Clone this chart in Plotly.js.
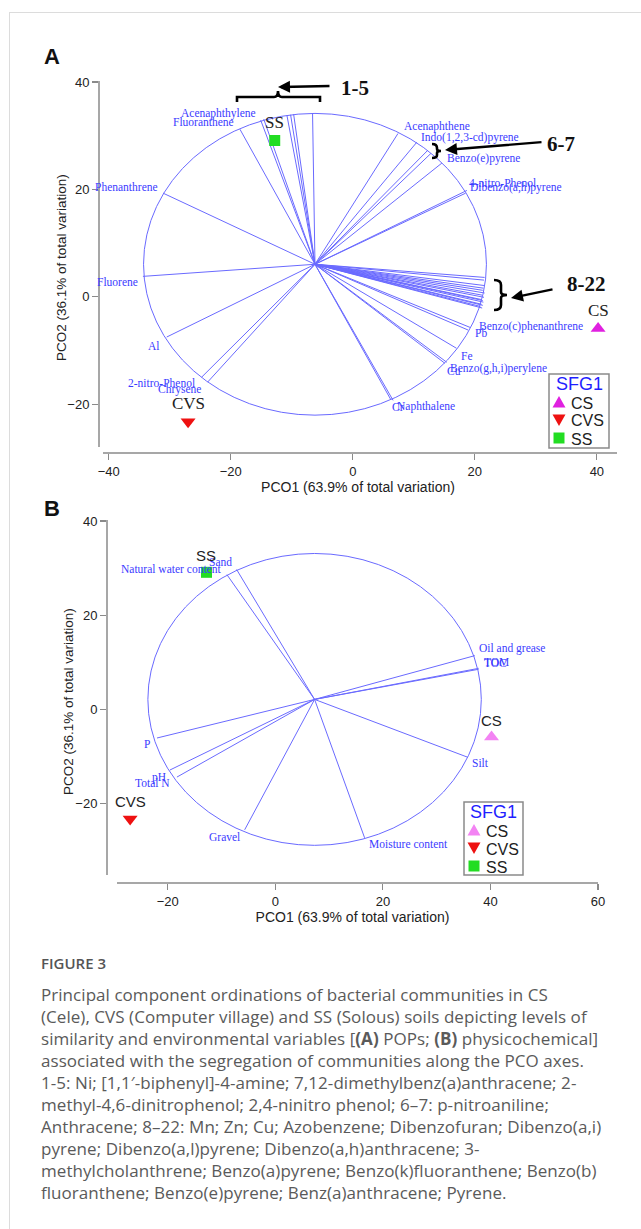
<!DOCTYPE html>
<html><head><meta charset="utf-8">
<script src="https://cdn.plot.ly/plotly-3.0.1.min.js"></script>
<style>
html,body{margin:0;padding:0;background:#fff;width:641px;height:1229px;overflow:hidden;}
#frame{position:absolute;left:9px;top:12px;right:0;bottom:0;border-top:1px solid #dcdcdc;border-left:1px solid #dcdcdc;}
#chart{position:absolute;left:0;top:0;width:641px;height:930px;}
#cap{position:absolute;left:41px;top:952px;font-family:'Open Sans',sans-serif;font-size:17px;line-height:22px;color:#5a5a5a;white-space:nowrap;letter-spacing:0.05px;}
#cap .fig{font-weight:600;color:#555;font-size:15px;letter-spacing:0;}
#cap .body{margin-top:10px;}
</style></head><body>
<div id="frame"></div>
<div id="chart"></div>
<div id="cap"><div class="fig">FIGURE 3</div><div class="body">
Principal component ordinations of bacterial communities in CS<br>
(Cele), CVS (Computer village) and SS (Solous) soils depicting levels of<br>
similarity and environmental variables [<b>(A)</b> POPs; <b>(B)</b> physicochemical]<br>
associated with the segregation of communities along the PCO axes.<br>
1-5: Ni; [1,1′-biphenyl]-4-amine; 7,12-dimethylbenz(a)anthracene; 2-<br>
methyl-4,6-dinitrophenol; 2,4-ninitro phenol; 6–7: p-nitroaniline;<br>
Anthracene; 8–22: Mn; Zn; Cu; Azobenzene; Dibenzofuran; Dibenzo(a,i)<br>
pyrene; Dibenzo(a,l)pyrene; Dibenzo(a,h)anthracene; 3-<br>
methylcholanthrene; Benzo(a)pyrene; Benzo(k)fluoranthene; Benzo(b)<br>
fluoranthene; Benzo(e)pyrene; Benz(a)anthracene; Pyrene.</div></div>
<script>
// ---------- DATA ----------
const sites = ['CS', 'CVS', 'SS'];
const sitePCO1 = [40.2, -27.0, -12.8];
const sitePCO2 = [-5.9, -23.3, 29.1];

// Panel A: POP vectors (end points), drawn from the vector origin
const popOrigin = [-6.2, 6.05];
const popRadius = 28.1;
const popNames = ['Fluoranthene', 'Acenaphthylene', '', '', '', '', '',
  'Acenaphthene', 'Indo(1,2,3-cd)pyrene', '', '', 'Benzo(e)pyrene', '4-nitro-Phenol', 'Dibenzo(a,h)pyrene',
  '', '', '', '', '', '', '', '', '', '', '', '', '', '', '',
  'Benzo(c)phenanthrene', 'Pb', 'Fe', 'Cu', 'Benzo(g,h,i)perylene', 'Cr', 'Naphthalene',
  'Phenanthrene', 'Fluorene', 'Al', '2-nitro-Phenol', 'Chrysene'];
const popX = [-18.5, -15.1, -14.6, -10.8, -10.2, -9.7, -6.6,
  7.4, 10.5, 12.3, 12.8, 14.6, 18.7, 18.5,
  21.6, 21.5, 21.5, 21.4, 21.3, 21.6, 21.2, 21.5, 21.0, 21.3, 21.4, 21.1, 21.3, 20.9, 21.2,
  19.2, 18.9, 17.0, 15.1, 15.4, 6.2, 6.6,
  -31.1, -34.4, -30.5, -24.8, -23.8];
const popY = [31.2, 32.9, 33.1, 33.8, 33.9, 34.0, 34.2,
  30.4, 28.8, 27.3, 26.7, 24.9, 19.8, 19.3,
  3.6, 3.1, 2.1, 1.6, 1.2, 0.7, 0.3, -0.1, -0.5, -0.7, -1.0, -1.4, -1.6, -1.8, -2.1,
  -5.7, -6.2, -9.6, -12.4, -12.2, -19.1, -19.3,
  19.3, 3.8, -7.5, -15.0, -15.9];

// Panel B: physicochemical vectors
const physOrigin = [7.3, 2.1];
const physRadius = 31.0;
const physNames = ['Natural water content', 'Sand', 'Oil and grease', 'TOC', 'TOM', 'Silt',
  'Moisture content', 'Gravel', 'P', 'pH', 'Total N'];
const physX = [-9.0, -7.2, 37.1, 37.8, 37.8, 35.8, 16.6, -5.7, -22.0, -19.6, -18.3];
const physY = [28.6, 29.7, 11.4, 8.5, 8.7, -10.2, -27.3, -25.6, -6.1, -12.9, -14.4];

const axisTicksA_x = [-40, -20, 0, 20, 40];
const axisTicksA_y = [-20, 0, 20, 40];
const axisTicksB_x = [-20, 0, 20, 40, 60];
const axisTicksB_y = [-20, 0, 20, 40];
const legendTitle = 'SFG1';

// ---------- STYLE ----------
const W = 641, H = 930;
const VEC = '#6a6aff';
const LBL = '#3b3bff';
const AXC = '#8a8a8a';
const siteColorsA = ['#e020e0', '#ee1111', '#22dd22'];
const siteColorsB = ['#f383f3', '#ee1111', '#22dd22'];
const siteSymbols = ['triangle-up', 'triangle-down', 'square'];
const siteSizes = [13, 13, 11];

// label placement: [xanchor, xshift, yshift]
const popLabelStyle = {
  'Fluoranthene': ['right', -4, 7], 'Acenaphthylene': ['right', -3, 7],
  'Phenanthrene': ['right', -3, 6], 'Fluorene': ['right', -3, -6], 'Al': ['right', -5, -9],
  '2-nitro-Phenol': ['right', -5, -6], 'Chrysene': ['right', -5, -7],
  'Acenaphthene': ['left', 4, 7], 'Indo(1,2,3-cd)pyrene': ['left', 2, 5], 'Benzo(e)pyrene': ['left', 3, 5],
  '4-nitro-Phenol': ['left', 0, 7], 'Dibenzo(a,h)pyrene': ['left', 2, 6],
  'Benzo(c)phenanthrene': ['left', 7, 1], 'Pb': ['left', 5, -3], 'Fe': ['left', 2, -8],
  'Cu': ['left', 0, -8], 'Benzo(g,h,i)perylene': ['left', 1, -6], 'Cr': ['left', -1, -8],
  'Naphthalene': ['left', 2, -6]
};
const physLabelStyle = {
  'Natural water content': ['right', -4, 6], 'Sand': ['right', -3, 7], 'Oil and grease': ['left', 2, 7],
  'TOC': ['left', 3, 6], 'TOM': ['left', 3, 6], 'Silt': ['left', 2, -6], 'Moisture content': ['left', 2, -6],
  'Gravel': ['right', -3, -7], 'P': ['right', -5, -6], 'pH': ['right', -2, -7], 'Total N': ['right', -5, -6]
};

function vecTrace(origin, xs, ys, xa, ya) {
  const X = [], Y = [];
  xs.forEach((x, i) => { X.push(origin[0], x, null); Y.push(origin[1], ys[i], null); });
  return {type: 'scatter', mode: 'lines', x: X, y: Y, xaxis: xa, yaxis: ya,
    line: {color: VEC, width: 1}, hoverinfo: 'skip', showlegend: false};
}
const traces = [vecTrace(popOrigin, popX, popY, 'x', 'y'), vecTrace(physOrigin, physX, physY, 'x2', 'y2')];
sites.forEach((s, i) => {
  traces.push({type: 'scatter', mode: 'markers', name: s, x: [sitePCO1[i]], y: [sitePCO2[i]],
    xaxis: 'x', yaxis: 'y', showlegend: false, cliponaxis: false,
    marker: {symbol: siteSymbols[i], size: siteSizes[i], color: siteColorsA[i]}});
});
sites.forEach((s, i) => {
  traces.push({type: 'scatter', mode: 'markers', name: s, x: [sitePCO1[i]], y: [sitePCO2[i]],
    xaxis: 'x2', yaxis: 'y2', showlegend: false, cliponaxis: false,
    marker: {symbol: siteSymbols[i], size: siteSizes[i], color: siteColorsB[i]}});
});

const ann = [];
const vecFont = {family: 'Liberation Serif', size: 11.5, color: LBL};
popNames.forEach((n, i) => {
  if (!n) return;
  const st = popLabelStyle[n];
  ann.push({xref: 'x', yref: 'y', x: popX[i], y: popY[i], text: n, showarrow: false,
    xanchor: st[0], yanchor: 'middle', xshift: st[1], yshift: st[2], font: vecFont});
});
physNames.forEach((n, i) => {
  const st = physLabelStyle[n];
  ann.push({xref: 'x2', yref: 'y2', x: physX[i], y: physY[i], text: n, showarrow: false,
    xanchor: st[0], yanchor: 'middle', xshift: st[1], yshift: st[2], font: vecFont});
});
sites.forEach((s, i) => {
  ann.push({xref: 'x', yref: 'y', x: sitePCO1[i], y: sitePCO2[i], text: s, showarrow: false,
    yshift: 18, font: {family: 'Liberation Serif', size: 17, color: '#222'}});
  ann.push({xref: 'x2', yref: 'y2', x: sitePCO1[i], y: sitePCO2[i], text: s, showarrow: false,
    yshift: 17, font: {family: 'Arial', size: 15, color: '#222'}});
});
const px = (x) => x / W, py = (y) => 1 - y / H;
function paperText(x, y, t, font, extra) {
  ann.push(Object.assign({xref: 'paper', yref: 'paper', x: px(x), y: py(y), text: t, showarrow: false,
    xanchor: 'center', yanchor: 'middle', font: font}, extra || {}));
}
function arrow(tx, ty, hx, hy) {
  ann.push({xref: 'paper', yref: 'paper', x: px(hx), y: py(hy), ax: tx - hx, ay: ty - hy, text: '',
    showarrow: true, arrowhead: 2, arrowsize: 1, arrowwidth: 2.4, arrowcolor: '#000'});
}
const bold = {family: 'Liberation Serif', size: 21, color: '#111'};
paperText(52, 57, '<b>A</b>', {family: 'Arial', size: 22, color: '#111'});
paperText(52, 508, '<b>B</b>', {family: 'Arial', size: 22, color: '#111'});
paperText(355, 88, '<b>1-5</b>', bold);
paperText(561, 144, '<b>6-7</b>', bold);
paperText(586, 284, '<b>8-22</b>', bold);
arrow(331, 86, 278, 87);
arrow(543, 142, 445, 150);
arrow(554, 289, 511, 298);
// y axis titles
const yTitleFont = {family: 'Arial', size: 13.5, color: '#222'};
paperText(62, 268, 'PCO2 (36.1% of total variation)', yTitleFont, {textangle: -90});
paperText(68, 702, 'PCO2 (36.1% of total variation)', yTitleFont, {textangle: -90});

function P(x, y) { return px(x) + ',' + py(y); }
const brace = (pts) => ({type: 'path', xref: 'paper', yref: 'paper', path: pts, line: {color: '#000', width: 2.6}});
const pline = (x0, y0, x1, y1) => ({type: 'line', xref: 'paper', yref: 'paper', x0: px(x0), y0: py(y0), x1: px(x1), y1: py(y1),
  line: {color: AXC, width: 1.5}});
const shapes = [
  {type: 'circle', xref: 'x', yref: 'y', x0: popOrigin[0] - popRadius, x1: popOrigin[0] + popRadius,
    y0: popOrigin[1] - popRadius, y1: popOrigin[1] + popRadius, line: {color: VEC, width: 1}, layer: 'below'},
  {type: 'circle', xref: 'x2', yref: 'y2', x0: physOrigin[0] - physRadius, x1: physOrigin[0] + physRadius,
    y0: physOrigin[1] - physRadius, y1: physOrigin[1] + physRadius, line: {color: VEC, width: 1}, layer: 'below'},
  brace('M' + P(237, 102) + ' L' + P(237, 97) + ' L' + P(274, 97) + ' Q' + P(278, 97) + ' ' + P(278, 91) +
    ' Q' + P(278, 97) + ' ' + P(282, 97) + ' L' + P(320, 97) + ' L' + P(320, 102)),
  brace('M' + P(432, 144) + ' Q' + P(437, 144) + ' ' + P(437, 148) + ' L' + P(437, 149) + ' Q' + P(437, 151) + ' ' + P(441, 151) +
    ' Q' + P(437, 151) + ' ' + P(437, 153) + ' L' + P(437, 155) + ' Q' + P(437, 158) + ' ' + P(432, 158)),
  brace('M' + P(494, 280) + ' Q' + P(501, 280) + ' ' + P(501, 285) + ' L' + P(501, 292) + ' Q' + P(501, 295) + ' ' + P(507, 295) +
    ' Q' + P(501, 295) + ' ' + P(501, 298) + ' L' + P(501, 305) + ' Q' + P(501, 310) + ' ' + P(494, 310)),
  // separated axis lines (PRIMER style)
  pline(99, 81, 99, 447), pline(103, 453, 617, 453),
  pline(107, 520, 107, 875), pline(117, 883, 598, 883)
];

// hand-built legend boxes (one per panel)
function legendBox(x0, y0, x1, y1, colors, rowYs, symX, textX) {
  shapes.push({type: 'rect', xref: 'paper', yref: 'paper', x0: px(x0), x1: px(x1), y0: py(y1), y1: py(y0),
    line: {color: AXC, width: 1.5}, fillcolor: '#fff', layer: 'above'});
  paperText((x0 + x1) / 2, y0 + 10, legendTitle, {family: 'Arial', size: 18, color: '#1f1fff'});
  sites.forEach((s, i) => {
    const cx = symX, cy = rowYs[i];
    let path;
    if (siteSymbols[i] === 'triangle-up') path = 'M' + P(cx - 6.5, cy + 5.5) + ' L' + P(cx + 6.5, cy + 5.5) + ' L' + P(cx, cy - 6) + ' Z';
    else if (siteSymbols[i] === 'triangle-down') path = 'M' + P(cx - 6.5, cy - 5.5) + ' L' + P(cx + 6.5, cy - 5.5) + ' L' + P(cx, cy + 6) + ' Z';
    else path = 'M' + P(cx - 5.5, cy - 5.5) + ' L' + P(cx + 5.5, cy - 5.5) + ' L' + P(cx + 5.5, cy + 5.5) + ' L' + P(cx - 5.5, cy + 5.5) + ' Z';
    shapes.push({type: 'path', xref: 'paper', yref: 'paper', path: path, fillcolor: colors[i], line: {width: 0}, layer: 'above'});
    paperText(textX, cy + 1, s, {family: 'Arial', size: 16, color: '#222'}, {xanchor: 'left'});
  });
}
legendBox(549, 374, 609, 448, siteColorsA, [402, 420, 438], 559, 569);
legendBox(464, 802, 523, 875, siteColorsB, [830, 848, 866], 474, 484);

const tickFont = {family: 'Arial', size: 13, color: '#222'};
const titleFont = {family: 'Arial', size: 14, color: '#222'};
const ax = (o) => Object.assign({showline: false, ticks: 'outside',
  ticklen: 6, tickcolor: AXC, tickwidth: 1.2, showgrid: false, zeroline: false, tickfont: tickFont,
  fixedrange: true}, o);

const layout = {
  width: W, height: H, margin: {l: 0, r: 0, t: 0, b: 0}, paper_bgcolor: 'rgba(0,0,0,0)', plot_bgcolor: 'rgba(0,0,0,0)',
  showlegend: false,
  xaxis: ax({domain: [99 / W, 617 / W], range: [-41.6, 43.3], anchor: 'y', tickvals: axisTicksA_x,
    title: {text: 'PCO1 (63.9% of total variation)', font: titleFont, standoff: 2}}),
  yaxis: ax({domain: [py(453), py(82)], range: [-29.1, 40], anchor: 'x', tickvals: axisTicksA_y}),
  xaxis2: ax({domain: [107 / W, 598 / W], range: [-31.3, 60], anchor: 'y2', tickvals: axisTicksB_x,
    title: {text: 'PCO1 (63.9% of total variation)', font: titleFont, standoff: 2}}),
  yaxis2: ax({domain: [py(883), py(521)], range: [-36.9, 40], anchor: 'x2', tickvals: axisTicksB_y}),
  annotations: ann, shapes: shapes
};
Plotly.newPlot('chart', traces, layout, {displayModeBar: false, staticPlot: true});
</script>
</body></html>
